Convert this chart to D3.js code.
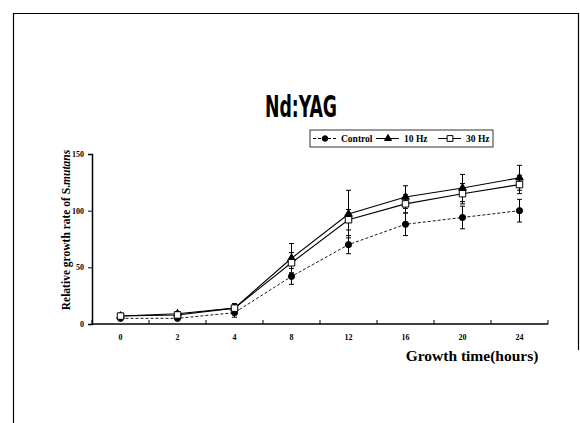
<!DOCTYPE html>
<html>
<head>
<meta charset="utf-8">
<script src="https://cdn.jsdelivr.net/npm/d3@7"></script>
<style>
  body { margin: 0; background: #fff; }
  svg text { font-family: "Liberation Serif", "Times New Roman", serif; font-weight: bold; }
</style>
</head>
<body>
<div id="chart"></div>
<script>
// Categories (hours) and series values
var hours = ["0", "2", "4", "8", "12", "16", "20", "24"];
var control = [5, 5, 10, 42, 70, 88, 94, 100];
var controlErr = [2, 2, 4, 7, 8, 10, 10, 10];
var hz10 = [7, 9, 14, 58, 97, 112, 120, 129];
var hz10Err = [2, 2, 4, 13, 21, 10, 12, 11];
var hz30 = [7, 8, 14, 54, 92, 106, 115, 123];
var hz30Err = [2, 2, 3, 9, 9, 8, 9, 8];
var yTicks = [0, 50, 100, 150];

var w = 580, h = 423;

var svg = d3.select("#chart").append("svg")
    .attr("width", w)
    .attr("height", h);

// Outer frame (partial, like the scanned figure)
svg.append("path")
    .attr("d", "M13.5,423 L13.5,13.5 L578.5,13.5 L578.5,350")
    .attr("fill", "none")
    .attr("stroke", "#000")
    .attr("stroke-width", 1.2);

// Title
svg.append("text")
    .attr("x", 301)
    .attr("y", 117)
    .attr("text-anchor", "middle")
    .attr("textLength", 72)
    .attr("lengthAdjust", "spacingAndGlyphs")
    .style("font-family", "'DejaVu Sans Condensed', 'DejaVu Sans', sans-serif")
    .style("font-weight", "bold")
    .style("font-size", "30px")
    .text("Nd:YAG");

// Scales
var xScale = d3.scaleBand()
    .domain(hours)
    .range([92, 548])
    .padding(0);

var yScale = d3.scaleLinear()
    .domain([0, 150])
    .range([324, 154]);

function cx(d, i) { return xScale(hours[i]) + xScale.bandwidth() / 2; }

// Y axis
var yAxis = svg.append("g")
    .attr("transform", "translate(92,0)")
    .call(d3.axisLeft(yScale).tickValues(yTicks).tickSize(4).tickPadding(4));
yAxis.select(".domain").attr("stroke-width", 1.5);
yAxis.selectAll("text").style("font-size", "8px").attr("fill", "#000");

// X axis line + ticks at band boundaries
svg.append("line")
    .attr("x1", 92).attr("x2", 548)
    .attr("y1", 324).attr("y2", 324)
    .attr("stroke", "#000")
    .attr("stroke-width", 1.5);

var bounds = hours.map(function(d) { return xScale(d); }).concat([xScale.range()[1]]);
svg.selectAll(".xtick")
    .data(bounds)
    .enter()
    .append("line")
    .attr("class", "xtick")
    .attr("x1", function(d) { return d; })
    .attr("x2", function(d) { return d; })
    .attr("y1", 324)
    .attr("y2", 320)
    .attr("stroke", "#000");

svg.selectAll(".xlabel")
    .data(hours)
    .enter()
    .append("text")
    .attr("class", "xlabel")
    .attr("x", function(d) { return xScale(d) + xScale.bandwidth() / 2; })
    .attr("y", 340)
    .attr("text-anchor", "middle")
    .style("font-size", "8px")
    .text(function(d) { return d; });

// Axis titles
svg.append("text")
    .attr("x", 472)
    .attr("y", 361)
    .attr("text-anchor", "middle")
    .style("font-size", "15.5px")
    .text("Growth time(hours)");

var yTitle = svg.append("text")
    .attr("transform", "translate(70,230) rotate(-90)")
    .attr("text-anchor", "middle")
    .style("font-size", "11.5px");
yTitle.append("tspan").text("Relative growth rate of S.");
yTitle.append("tspan").style("font-style", "italic").text("mutans");

// Series
var series = [
    { name: "Control", values: control, err: controlErr, dash: "3,2", marker: "circle" },
    { name: "10 Hz", values: hz10, err: hz10Err, dash: null, marker: "triangle" },
    { name: "30 Hz", values: hz30, err: hz30Err, dash: null, marker: "square" }
];

var symType = { circle: d3.symbolCircle, triangle: d3.symbolTriangle, square: d3.symbolSquare };
var symSize = { circle: 30, triangle: 26, square: 42 };

var line = d3.line()
    .x(cx)
    .y(function(d) { return yScale(d); });

series.forEach(function(s) {
    var g = svg.append("g");

    // error bars
    var eb = g.selectAll(".err")
        .data(s.values)
        .enter()
        .append("g");
    eb.append("line")
        .attr("x1", cx).attr("x2", cx)
        .attr("y1", function(d, i) { return yScale(d + s.err[i]); })
        .attr("y2", function(d, i) { return yScale(d - s.err[i]); })
        .attr("stroke", "#000");
    eb.append("line")
        .attr("x1", function(d, i) { return cx(d, i) - 2.5; })
        .attr("x2", function(d, i) { return cx(d, i) + 2.5; })
        .attr("y1", function(d, i) { return yScale(d + s.err[i]); })
        .attr("y2", function(d, i) { return yScale(d + s.err[i]); })
        .attr("stroke", "#000");
    eb.append("line")
        .attr("x1", function(d, i) { return cx(d, i) - 2.5; })
        .attr("x2", function(d, i) { return cx(d, i) + 2.5; })
        .attr("y1", function(d, i) { return yScale(d - s.err[i]); })
        .attr("y2", function(d, i) { return yScale(d - s.err[i]); })
        .attr("stroke", "#000");

    g.append("path")
        .datum(s.values)
        .attr("d", line)
        .attr("fill", "none")
        .attr("stroke", "#000")
        .attr("stroke-width", s.dash ? 0.9 : 1.1)
        .attr("stroke-dasharray", s.dash);

    g.selectAll(".pt")
        .data(s.values)
        .enter()
        .append("path")
        .attr("d", d3.symbol().type(symType[s.marker]).size(symSize[s.marker]))
        .attr("transform", function(d, i) { return "translate(" + cx(d, i) + "," + yScale(d) + ")"; })
        .attr("fill", s.marker === "square" ? "#fff" : "#000")
        .attr("stroke", "#000")
        .attr("stroke-width", 1);
});

// Legend
var legend = svg.append("g").attr("transform", "translate(310,130)");
legend.append("rect")
    .attr("width", 183).attr("height", 17)
    .attr("fill", "#fff")
    .attr("stroke", "#000")
    .attr("stroke-width", 0.8);

var legendItems = [
    { x: 3, label: "Control", s: series[0] },
    { x: 66, label: "10 Hz", s: series[1] },
    { x: 128, label: "30 Hz", s: series[2] }
];
legendItems.forEach(function(it) {
    legend.append("line")
        .attr("x1", it.x).attr("x2", it.x + 23)
        .attr("y1", 8.5).attr("y2", 8.5)
        .attr("stroke", "#000")
        .attr("stroke-dasharray", it.s.dash);
    legend.append("path")
        .attr("d", d3.symbol().type(symType[it.s.marker]).size(symSize[it.s.marker] * 0.8))
        .attr("transform", "translate(" + (it.x + 12) + ",8.5)")
        .attr("fill", it.s.marker === "square" ? "#fff" : "#000")
        .attr("stroke", "#000");
    legend.append("text")
        .attr("x", it.x + 28)
        .attr("y", 12)
        .style("font-size", "9.5px")
        .text(it.label);
});
</script>
</body>
</html>
